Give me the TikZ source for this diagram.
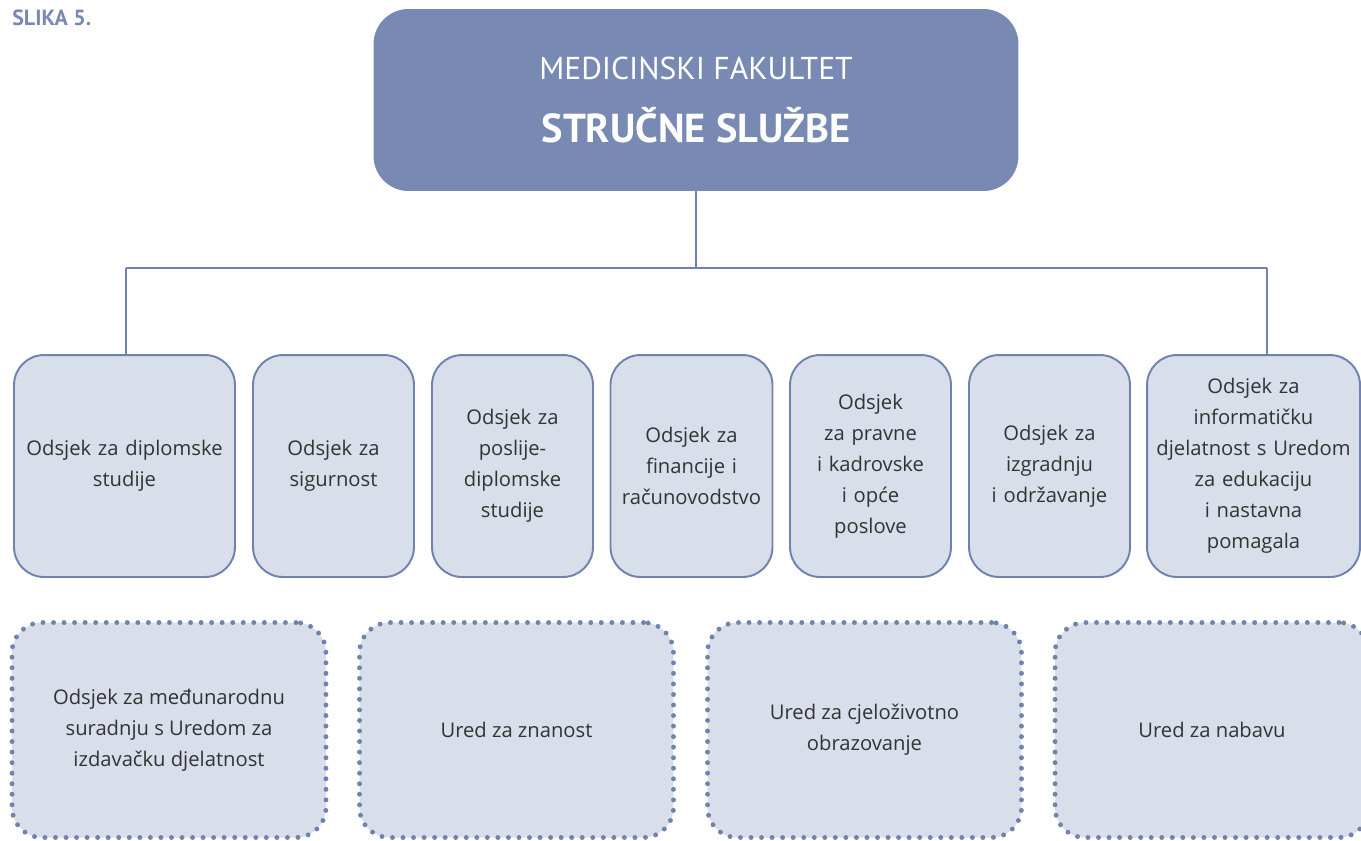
\documentclass[tikz,border=0pt]{standalone}
\usepackage{fontspec}
\setmainfont{Open Sans}
\newfontfamily\titlefont{PT Sans}
\usetikzlibrary{positioning}
\definecolor{headblue}{HTML}{7889B3}
\definecolor{edgeblue}{HTML}{7082B0}
\definecolor{paleblue}{HTML}{D8DEEA}
\definecolor{textgray}{HTML}{333333}
\begin{document}
\begin{tikzpicture}[x=0.02cm,y=-0.02cm,
  head/.style={rounded corners=0.7cm,fill=headblue,draw=none,minimum width=12.9cm,
    minimum height=3.64cm,align=center,text=white,font=\titlefont},
  odsjek/.style={rounded corners=0.6cm,draw=edgeblue,fill=paleblue,line width=1.1pt,
    minimum height=4.44cm,align=center,text=textgray,inner sep=2pt,
    font=\fontsize{11.5}{17.6}\selectfont},
  ured/.style={rounded corners=0.6cm,draw=edgeblue,fill=paleblue,line width=2.8pt,
    dash pattern=on 0pt off 6pt,line cap=round,minimum width=6.28cm,minimum height=4.3cm,
    align=center,text=textgray,font=\fontsize{11.5}{17.6}\selectfont},
  conn/.style={draw=edgeblue,line width=0.8pt}]
\useasboundingbox (0,0) rectangle (1361,840);
\node[anchor=north west,inner sep=0pt,text=headblue,font=\titlefont\fontsize{12.5}{14}\selectfont\bfseries]
  (fig) at (12,9) {SLIKA 5.};
\node[head] (top) at (696,100) {{\fontsize{18}{22}\selectfont MEDICINSKI FAKULTET}\\[15pt]
  {\fontsize{23}{27}\selectfont\bfseries STRUČNE SLUŽBE}};
% odsjeci
\node[odsjek,minimum width=4.42cm,text width=4.2cm] (o1) at (124.5,466) {Odsjek za diplomske\\studije};
\node[odsjek,minimum width=3.22cm,text width=3.0cm] (o2) at (333.5,466) {Odsjek za\\sigurnost};
\node[odsjek,minimum width=3.22cm,text width=3.0cm] (o3) at (512.5,466) {Odsjek za\\poslije-\\diplomske\\studije};
\node[odsjek,minimum width=3.22cm,text width=3.1cm] (o4) at (691.5,466) {Odsjek za\\financije i\\računovodstvo};
\node[odsjek,minimum width=3.22cm,text width=3.0cm] (o5) at (870.5,466) {Odsjek\\za pravne\\i kadrovske\\i opće\\poslove};
\node[odsjek,minimum width=3.22cm,text width=3.0cm] (o6) at (1049.5,466) {Odsjek za\\izgradnju\\i održavanje};
\node[odsjek,minimum width=4.26cm,text width=4.1cm] (o7) at (1253.5,466) {Odsjek za\\informatičku\\djelatnost s Uredom\\za edukaciju\\i nastavna\\pomagala};
% uredi
\node[ured] (u1) at (169,730) {Odsjek za međunarodnu\\suradnju s Uredom za\\izdavačku djelatnost};
\node[ured] (u2) at (516.5,730) {Ured za znanost};
\node[ured] (u3) at (864.5,730) {Ured za cjeloživotno\\obrazovanje};
\node[ured] (u4) at (1212,730) {Ured za nabavu};
% veze
\coordinate (j) at (696,268);
\coordinate (j1) at (126,268);
\coordinate (j7) at (1267,268);
\draw[conn] (top.south) -- (j);
\draw[conn] (j1) -- (j7);
\draw[conn] (j1) -- (j1 |- o1.north);
\draw[conn] (j7) -- (j7 |- o7.north);
\end{tikzpicture}
\end{document}
